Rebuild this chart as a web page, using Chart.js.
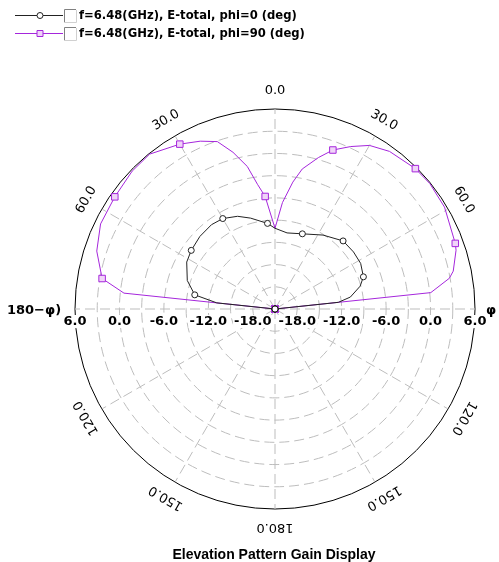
<!DOCTYPE html>
<html><head><meta charset="utf-8">
<script src="https://cdn.jsdelivr.net/npm/chart.js@4.4.1/dist/chart.umd.min.js"></script>
<style>html,body{margin:0;padding:0;background:#fff}#wrap{width:499px;height:562px;position:relative}</style>
</head><body><div id="wrap"><canvas id="c"></canvas></div>
<script>
const seriesNames = ['f=6.48(GHz), E-total, phi=0 (deg)', 'f=6.48(GHz), E-total, phi=90 (deg)'];
// theta (deg) / gain (dB) samples; -21 = at or below the scale floor
const phi0Theta = [-180,-155,-130,-105,-85,-84,-80,-72,-62,-55,-46,-37,-30,-22,-15,-5,0,9,20,33,45,54,62,70,75,81,84,85,95,120,145,170];
const phi0Gain  = [-21,-21,-21,-21,-21,-13.1,-10.0,-8.55,-7.5,-7.2,-6.9,-6.75,-6.9,-7.5,-8.3,-9.4,-10.1,-10.6,-10.2,-9.1,-8.0,-7.9,-7.9,-8.3,-9.1,-10.7,-12.4,-21,-21,-21,-21,-21];
const phi90Theta = [-180,-155,-130,-105,-85,-84,-80,-72,-64,-55,-46,-39,-30,-24,-19,-15,-11,-8,-5,0,4,8,11,16,20,25,30,36,45,51,59,70,72,78,80,84,85,95,120,145,170];
const phi90Gain  = [-21,-21,-21,-21,-21,-0.5,2.7,4.3,5.2,5.4,5.8,5.9,4.7,3.8,2.9,0.9,-1.4,-4.0,-5.75,-10.1,-6.6,-3.7,-1.75,0.27,1.84,3.2,4.5,5.3,5.8,5.9,5.7,4.9,4.7,3.6,2.9,0.15,-21,-21,-21,-21,-21];
const markerTheta = [-180,-155,-130,-105,-80,-55,-30,-5,20,45,70,95,120,145,170];
const radialTicks = [-18,-12,-6,0,6];
const angleTicks = [0,30,60,120,150,180,-150,-120,-60,-30];
const scaleMin = -21, scaleMax = 6, ringStep = 3;

const thetaLabels = [];
for (let t = -180; t < 180; t++) thetaLabels.push(t);
function buildTable(th, g) {
  const m = new Map(th.map((t, i) => [t, g[i]]));
  return thetaLabels.map(t => m.has(t) ? m.get(t) : null);
}
const colors = ['#222222', '#a526dc'];
const markerFill = ['#ffffff', '#f0d4f8'];
const styles = ['circle', 'rect'];
const radii = [3, 4.6];

const datasets = [[phi0Theta, phi0Gain], [phi90Theta, phi90Gain]].map((s, k) => ({
  label: seriesNames[k],
  data: buildTable(s[0], s[1]),
  borderColor: colors[k],
  borderWidth: 1,
  fill: false,
  spanGaps: true,
  tension: 0,
  pointStyle: styles[k],
  pointBorderColor: colors[k],
  pointBackgroundColor: markerFill[k],
  pointBorderWidth: 1,
  pointRadius: ctx => markerTheta.includes(thetaLabels[ctx.dataIndex]) ? radii[k] : 0
}));

const decor = {
  id: 'decor',
  afterDraw(chart) {
    const ctx = chart.ctx, s = chart.scales.r;
    const cx = s.xCenter, cy = s.yCenter;
    ctx.save();
    ctx.fillStyle = '#000';
    ctx.textAlign = 'center';
    ctx.textBaseline = 'middle';
    // angle labels
    ctx.font = '13px "DejaVu Sans"';
    angleTicks.forEach(t => {
      const idx = thetaLabels.indexOf(t === 180 ? -180 : t);
      const p = s.getPointPosition(idx, s.drawingArea + 18);
      ctx.save();
      ctx.translate(p.x, p.y);
      ctx.rotate(t * Math.PI / 180);
      ctx.fillText(Math.abs(t).toFixed(1), 0, 0);
      ctx.restore();
    });
    // radial tick labels on both sides
    ctx.font = 'bold 13px "DejaVu Sans"';
    radialTicks.forEach(v => {
      const d = s.getDistanceFromCenterForValue(v);
      const txt = v.toFixed(1);
      const w = ctx.measureText(txt).width;
      [cx - d, cx + d].forEach(x => {
        ctx.fillStyle = '#fff';
        ctx.fillRect(x - w / 2 - 1, cy + 6, w + 2, 13);
        ctx.fillStyle = '#000';
        ctx.fillText(txt, x, cy + 13);
      });
    });
    ctx.fillText('180\u2212\u03c6)', 34, cy + 2);
    ctx.fillText('\u03c6', 491, cy + 2);
    // title
    ctx.font = 'bold 14px "Liberation Sans", Arial';
    ctx.fillText('Elevation Pattern Gain Display', 274, 555);
    // legend
    ctx.textAlign = 'left';
    ctx.font = 'bold 11.6px "DejaVu Sans"';
    [15, 33].forEach((y, k) => {
      ctx.strokeStyle = colors[k];
      ctx.lineWidth = 1;
      ctx.beginPath(); ctx.moveTo(15, y + 0.5); ctx.lineTo(63, y + 0.5); ctx.stroke();
      ctx.fillStyle = markerFill[k];
      ctx.beginPath();
      if (k === 0) { ctx.arc(40, y + 0.5, 3, 0, Math.PI * 2); }
      else { ctx.rect(37, y - 2.5, 6, 6); }
      ctx.fill(); ctx.stroke();
      // checkbox
      ctx.fillStyle = '#fff';
      ctx.fillRect(64, y - 5, 12, 12);
      ctx.strokeStyle = '#d0d0d0';
      ctx.beginPath(); ctx.moveTo(76.5, y - 5); ctx.lineTo(76.5, y + 7.5); ctx.lineTo(64, y + 7.5); ctx.stroke();
      ctx.strokeStyle = '#808080';
      ctx.beginPath(); ctx.moveTo(64.5, y + 7); ctx.lineTo(64.5, y - 5.5); ctx.lineTo(76, y - 5.5); ctx.stroke();
      ctx.fillStyle = '#000';
      ctx.fillText(seriesNames[k], 79, y + 1);
    });
    ctx.restore();
  }
};

new Chart(document.getElementById('c'), {
  type: 'radar',
  data: { labels: thetaLabels, datasets },
  options: {
    responsive: true,
    maintainAspectRatio: false,
    animation: false,
    layout: { padding: { left: 75, right: 24, top: 109, bottom: 53 } },
    plugins: { legend: { display: false }, tooltip: { enabled: false }, title: { display: false } },
    elements: { line: { borderWidth: 1 } },
    scales: {
      r: {
        min: scaleMin, max: scaleMax, startAngle: 180,
        ticks: { display: false, stepSize: ringStep },
        pointLabels: { display: false },
        grid: {
          circular: true,
          color: c => c.tick && c.tick.value === scaleMax ? '#000' : '#bdbdbd',
          lineWidth: 1
        },
        border: { dash: c => c.tick && c.tick.value === scaleMax ? [] : [10, 5] },
        angleLines: {
          display: true,
          color: '#bdbdbd',
          lineWidth: c => (thetaLabels[c.index] % 30 === 0) ? 1 : 0,
          borderDash: [10, 5]
        }
      }
    }
  },
  plugins: [decor]
});
</script></body></html>
